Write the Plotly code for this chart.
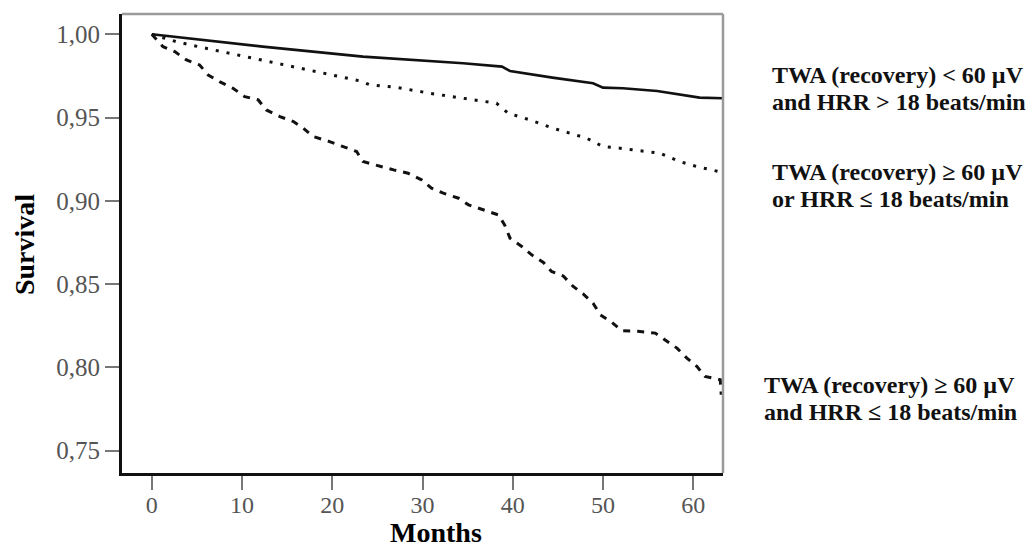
import plotly.graph_objects as go

# Kaplan-Meier survival estimates (months, cumulative survival) per risk group
months_low = [0, 12.3, 23.4, 30.8, 34.5, 38.8, 39.7, 44.4, 48.9, 50.0, 52.2, 56.0, 58.9, 60.7, 63.3]
surv_low = [1.000, 0.9926, 0.9866, 0.9840, 0.9826, 0.9806, 0.9780, 0.9740, 0.9706, 0.9680,
            0.9676, 0.9660, 0.9636, 0.9620, 0.9616]

months_mid = [0, 2.7, 5.5, 8.6, 11.6, 14.9, 18.6, 20.8, 23.1, 24.2, 27.1, 30.8, 33.0, 34.5,
              38.2, 39.5, 41.9, 44.5, 48.2, 50.0, 51.9, 56.3, 58.5, 60.4, 63.3]
surv_mid = [1.000, 0.9956, 0.9922, 0.9886, 0.9850, 0.9816, 0.9772, 0.9746, 0.9720, 0.9696,
            0.9682, 0.9646, 0.9626, 0.9616, 0.9586, 0.9526, 0.9486, 0.9436, 0.9376, 0.9326,
            0.9316, 0.9286, 0.9236, 0.9206, 0.9170]

months_high = [0, 1.25, 2.55, 3.85, 5.3, 6.25, 7.5, 9.0, 10.3, 11.8, 12.7, 14.2, 15.7, 16.8,
               17.9, 19.7, 22.7, 23.4, 26.8, 28.4, 29.9, 31.0, 32.3, 34.0, 35.1, 36.7, 38.4,
               39.1, 39.7, 41.0, 42.1, 43.4, 44.3, 45.6, 46.7, 47.8, 48.9, 49.7, 51.0, 52.1,
               54.1, 55.8, 57.2, 58.2, 59.3, 60.4, 61.3, 63.0, 63.1]
surv_high = [1.000, 0.9926, 0.9896, 0.9846, 0.9816, 0.9756, 0.9716, 0.9676, 0.9626, 0.9606,
             0.9546, 0.9506, 0.9476, 0.9436, 0.9386, 0.9356, 0.9296, 0.9236, 0.9186, 0.9166,
             0.9126, 0.9076, 0.9046, 0.9016, 0.8976, 0.8946, 0.8916, 0.8856, 0.8776, 0.8726,
             0.8676, 0.8630, 0.8576, 0.8549, 0.8486, 0.8442, 0.8386, 0.8316, 0.8270, 0.8220,
             0.8216, 0.8206, 0.8156, 0.8116, 0.8056, 0.8006, 0.7946, 0.7926, 0.7836]

# group labels, one entry per text line
group_lines = [
    ["TWA (recovery) < 60 µV", "and HRR > 18 beats/min"],
    ["TWA (recovery) ≥ 60 µV", "or HRR ≤ 18 beats/min"],
    ["TWA (recovery) ≥ 60 µV", "and HRR ≤ 18 beats/min"],
]

x_ticks = [0, 10, 20, 30, 40, 50, 60]
y_ticks = [0.75, 0.80, 0.85, 0.90, 0.95, 1.00]

SERIF = "Liberation Serif, Times New Roman, serif"

fig = go.Figure()
fig.add_trace(go.Scatter(x=months_low, y=surv_low, mode="lines",
                         line=dict(color="#111111", width=2.6), name=group_lines[0][0]))
fig.add_trace(go.Scatter(x=months_mid, y=surv_mid, mode="lines",
                         line=dict(color="#111111", width=3, dash="3px,8px"), name=group_lines[1][0]))
fig.add_trace(go.Scatter(x=months_high, y=surv_high, mode="lines",
                         line=dict(color="#111111", width=3, dash="7px,7px"), name=group_lines[2][0]))

fig.update_layout(
    width=1031, height=548,
    margin=dict(l=122, r=308, t=14, b=75),
    paper_bgcolor="white", plot_bgcolor="white",
    showlegend=False,
    separators=",.",
    font=dict(family=SERIF, color="#111111"),
)

fig.update_xaxes(
    range=[-3.3, 63.3], tickvals=x_ticks, ticks="outside", ticklen=14, tickwidth=2,
    tickcolor="#777777", tickfont=dict(size=24, color="#555555", family=SERIF),
    showgrid=False, zeroline=False, showline=True, linecolor="#111111", linewidth=3,
    ticklabelstandoff=-6,
)
fig.update_yaxes(
    range=[0.7366, 1.0122], tickvals=y_ticks, tickformat=".2f", ticks="outside", ticklen=14,
    tickwidth=2, tickcolor="#777777", tickfont=dict(size=25, color="#555555", family=SERIF),
    showgrid=False, zeroline=False, showline=True, linecolor="#111111", linewidth=3,
    ticklabelstandoff=0,
)

# light top and right frame edges
fig.add_shape(type="line", xref="paper", yref="paper", x0=0, x1=1, y0=1, y1=1,
              line=dict(color="#9a9a9a", width=2.5))
fig.add_shape(type="line", xref="paper", yref="paper", x0=1, x1=1, y0=0, y1=1,
              line=dict(color="#9a9a9a", width=2.5))

label_font = dict(family=SERIF, size=24, color="#111111")
# (left edge, first-line centre, second-line centre) in paper units
label_pos = [(1.078, 0.867, 0.808), (1.078, 0.656, 0.597), (1.065, 0.192, 0.133)]
for lines, (lx, y1, y2) in zip(group_lines, label_pos):
    for text, ly in zip(lines, (y1, y2)):
        fig.add_annotation(text="<b>" + text + "</b>", xref="paper", yref="paper", x=lx, y=ly,
                           xanchor="left", yanchor="middle", align="left", showarrow=False,
                           font=label_font)

title_font = dict(family=SERIF, size=28, color="#000000")
fig.add_annotation(text="<b>Survival</b>", xref="paper", yref="paper", x=-0.161, y=0.497,
                   textangle=-90, showarrow=False, font=title_font,
                   xanchor="center", yanchor="middle")
fig.add_annotation(text="<b>Months</b>", xref="paper", yref="paper", x=0.522, y=-0.130,
                   showarrow=False, font=title_font, xanchor="center", yanchor="middle")

fig.write_html("out.html")
